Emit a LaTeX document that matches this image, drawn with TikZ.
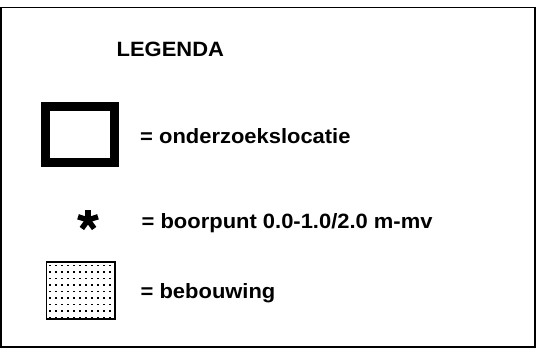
\documentclass[tikz,border=0pt]{standalone}
\usepackage{fontspec}
\setmainfont[FakeStretch=1.06]{Liberation Sans}
\usepackage{tikz}
\usetikzlibrary{calc}
\usetikzlibrary{positioning}

\tikzset{
  legtext/.style={anchor=base west, inner sep=0pt, font=\fontsize{20.7}{24}\selectfont\bfseries},
  dotfill/.style={fill=black, minimum size=1.1pt, inner sep=0pt}
}

\begin{document}
\begin{tikzpicture}[x=1pt, y=-1pt]

    \useasboundingbox (0, 0) rectangle (541, 349);

    \draw [line width=1.6pt] (0.8, 7.6) rectangle (534.8, 346.8);

    \node [legtext] (titel) at (116.5, 56.7) {LEGENDA};

    % onderzoekslocatie
    \draw [line width=9pt, miter limit=10] (45.6, 106.3) rectangle (114.2, 162.6);
    \node [legtext] (locatie) at (140, 143) {= onderzoekslocatie};

    % boorpunt
    \coordinate (ster) at (88, 220);
    \foreach \hoek in {90, 18, 162, -54, -126}
      \draw [line width=5.4pt] (ster) -- ++(\hoek:-10.5);
    \node [legtext] (boorpunt) at (141.5, 228.5) {= boorpunt 0.0-1.0/2.0 m-mv};

    % bebouwing
    \draw [line width=1.8pt] (46.5, 262) rectangle (115, 319);
    \foreach \i in {0,...,10}
      \foreach \j in {0,...,8}
        \fill (49.3 + 6 * \i, 264.8 + 6.5 * \j) rectangle ++(1.6, 1.6);
    \node [legtext] (bebouwing) at (140.5, 298.3) {= bebouwing};

  \end{tikzpicture}
\end{document}
